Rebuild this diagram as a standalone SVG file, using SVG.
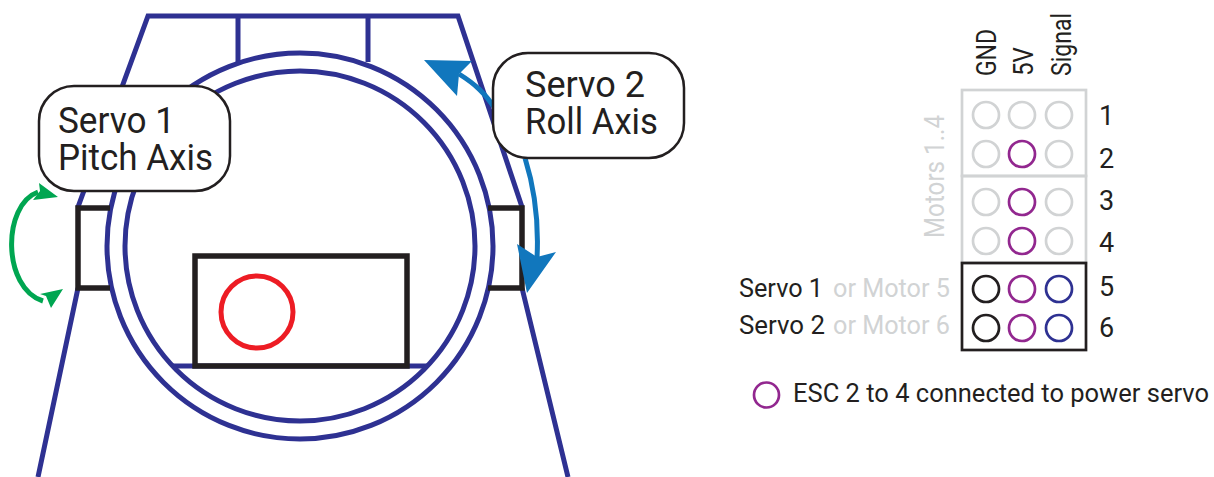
<svg xmlns="http://www.w3.org/2000/svg" width="1214" height="477" viewBox="0 0 1214 477">
<style>
.frame{fill:none;stroke:#2E3192;stroke-width:5}
.blk{fill:none;stroke:#231F20;stroke-width:5.5}
.callout{fill:#fff;stroke:#231F20;stroke-width:2.5}
text{font-family:"Roboto","Noto Sans","Liberation Sans",sans-serif;fill:#231F20;font-weight:400}
.big{font-size:37px}
.mid{font-size:26px}
.num{font-size:27px}
.leg{font-size:25px}
.gr{fill:#D1D3D4}
.pin{fill:#fff;stroke-width:2.7}
.g{stroke:#D1D3D4}.p{stroke:#92278F}.b{stroke:#2E3192}.k{stroke:#231F20}
.lb{fill:none;stroke:#D1D3D4;stroke-width:2.7}
</style>
<g id="gimbal">
<path class="frame" d="M38 477L78 288M78 207L148 16H458L522 207M522 288L568 477"/>
<path class="frame" d="M238 16V62M368 16V62"/>
<path class="frame" stroke-width="4" d="M173 366H428"/>
<circle class="frame" cx="300" cy="246" r="193"/>
<circle class="frame" cx="300" cy="246" r="175"/>
<path class="blk" d="M110 208H78V288H110"/>
<path class="blk" d="M488 208H522V288H488"/>
<rect class="blk" x="195" y="256" width="212" height="110"/>
<circle cx="257" cy="312" r="36" fill="none" stroke="#ED1C24" stroke-width="5"/>
</g>
<g id="connectors">
<path fill="none" stroke="#00A651" stroke-width="5" d="M38 192C2 205 2 288 43 301"/>
<path fill="#00A651" d="M58 197L39 183L40 191L33 200ZM63 289L40 294L46 296L51 308Z"/>
<path fill="none" stroke="#1177BD" stroke-width="5" d="M459 74C475 84 485 93 496 110M525 158C535 190 539 220 537 258"/>
<path fill="#1177BD" d="M424 60L472 61L459 74L457 96ZM527 293L517 244L537 257L556 252Z"/>
</g>
<g id="servo1-callout">
<rect class="callout" x="39" y="86" width="191" height="105" rx="35"/>
<text class="big"><tspan x="58" y="133" textLength="117" lengthAdjust="spacingAndGlyphs">Servo 1</tspan><tspan x="58" y="170" textLength="155" lengthAdjust="spacingAndGlyphs">Pitch Axis</tspan></text>
</g>
<g id="servo2-callout">
<rect class="callout" x="493" y="53" width="191" height="105" rx="35"/>
<text class="big"><tspan x="525" y="97" textLength="120" lengthAdjust="spacingAndGlyphs">Servo 2</tspan><tspan x="525" y="134" textLength="133" lengthAdjust="spacingAndGlyphs">Roll Axis</tspan></text>
</g>
<g id="pin-header">
<rect class="lb" x="962" y="90" width="124" height="86"/>
<rect class="lb" x="962" y="176" width="124" height="87"/>
<rect x="962" y="263" width="124" height="87" fill="none" stroke="#231F20" stroke-width="2.7"/>
<g>
<circle class="pin g" cx="986" cy="115" r="13"/><circle class="pin g" cx="1022" cy="115" r="13"/><circle class="pin g" cx="1059" cy="115" r="13"/>
<circle class="pin g" cx="986" cy="154" r="13"/><circle class="pin p" cx="1022" cy="154" r="13"/><circle class="pin g" cx="1059" cy="154" r="13"/>
<circle class="pin g" cx="986" cy="202" r="13"/><circle class="pin p" cx="1022" cy="202" r="13"/><circle class="pin g" cx="1059" cy="202" r="13"/>
<circle class="pin g" cx="986" cy="241" r="13"/><circle class="pin p" cx="1022" cy="241" r="13"/><circle class="pin g" cx="1059" cy="241" r="13"/>
<circle class="pin k" cx="986" cy="289" r="13"/><circle class="pin p" cx="1022" cy="289" r="13"/><circle class="pin b" cx="1059" cy="289" r="13"/>
<circle class="pin k" cx="986" cy="328" r="13"/><circle class="pin p" cx="1022" cy="328" r="13"/><circle class="pin b" cx="1059" cy="328" r="13"/>
</g>
<text class="num" transform="translate(996 76) rotate(-90)" textLength="47" lengthAdjust="spacingAndGlyphs">GND</text>
<text class="num" transform="translate(1033 76) rotate(-90)" textLength="29" lengthAdjust="spacingAndGlyphs">5V</text>
<text class="num" transform="translate(1071 76) rotate(-90)" textLength="63" lengthAdjust="spacingAndGlyphs">Signal</text>
<text class="num gr" transform="translate(944 238) rotate(-90)" textLength="123" lengthAdjust="spacingAndGlyphs">Motors 1..4</text>
<text class="num" x="1099" y="125">1</text>
<text class="num" x="1099" y="168">2</text>
<text class="num" x="1099" y="210">3</text>
<text class="num" x="1099" y="252">4</text>
<text class="num" x="1099" y="296">5</text>
<text class="num" x="1099" y="337">6</text>
<text class="mid" x="739" y="297" textLength="84" lengthAdjust="spacingAndGlyphs">Servo 1</text>
<text class="mid gr" x="833" y="297" textLength="117" lengthAdjust="spacingAndGlyphs">or Motor 5</text>
<text class="mid" x="739" y="334" textLength="86" lengthAdjust="spacingAndGlyphs">Servo 2</text>
<text class="mid gr" x="833" y="334" textLength="117" lengthAdjust="spacingAndGlyphs">or Motor 6</text>
</g>
<g id="legend">
<circle class="pin p" cx="766.5" cy="395" r="12.5"/>
<text class="leg" x="793" y="402" textLength="416" lengthAdjust="spacingAndGlyphs">ESC 2 to 4 connected to power servo</text>
</g>
</svg>
